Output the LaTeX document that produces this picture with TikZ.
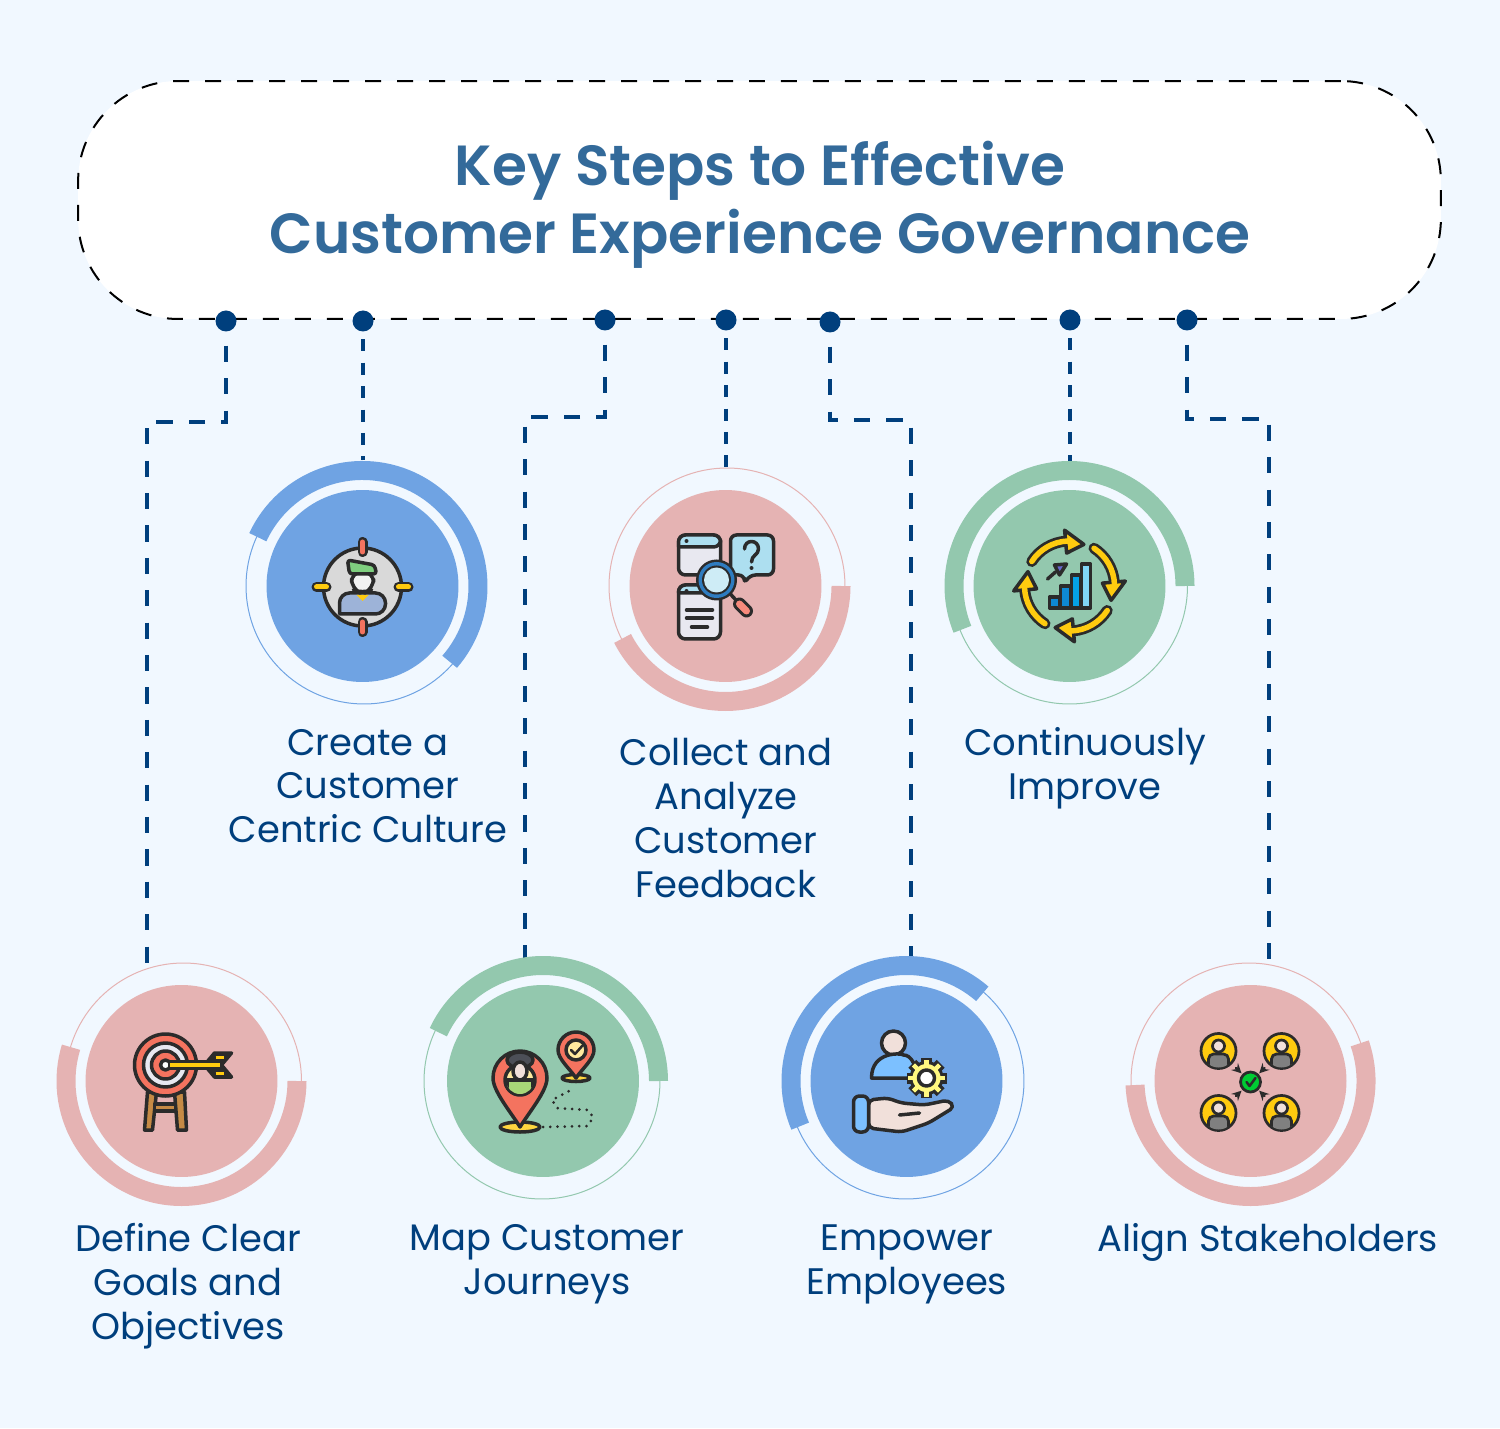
\documentclass[tikz,border=0pt]{standalone}
\usepackage{fontspec}
\setmainfont{Poppins}
\newfontfamily\titlefont{Poppins SemiBold}
\usetikzlibrary{calc}
\definecolor{pagec}{HTML}{F1F8FF}
\definecolor{navyc}{HTML}{003F7D}
\definecolor{titlec}{HTML}{336A9A}
\definecolor{pinkc}{HTML}{E5B3B3}
\definecolor{bluec}{HTML}{6FA3E3}
\definecolor{greenc}{HTML}{93C8AE}
\definecolor{inkc}{HTML}{2B2B2B}
\definecolor{coralc}{HTML}{F4735F}
\definecolor{yellowc}{HTML}{FFCB0F}
\definecolor{woodc}{HTML}{C58A45}
\definecolor{skyc}{HTML}{ADDFF0}
\definecolor{paperc}{HTML}{E8E8F0}
\definecolor{skinc}{HTML}{F1E0DA}
\definecolor{leafc}{HTML}{7FCF7F}
\definecolor{shirtc}{HTML}{9DB3D8}
\definecolor{lensc}{HTML}{2E7CC0}
\definecolor{sproutc}{HTML}{A8D878}
\definecolor{hairc}{HTML}{4C4F57}
\definecolor{palmc}{HTML}{7CC0FF}
\tikzset{
  headbox/.style  = {draw=black, fill=white, line width=.04cm, dash pattern=on .32cm off .32cm, rounded corners=2cm, minimum width=27.26cm, minimum height=4.76cm},
  headtext/.style = {align=center, text=titlec, inner sep=0, font=\fontsize{32.2}{38.5}\selectfont\titlefont},
  dotnode/.style  = {circle, fill=navyc, minimum size=.42cm, inner sep=0},
  linkbent/.style = {navyc, line width=.08cm, dash pattern=on .324cm off .324cm, dash phase=.37cm},
  linkflat/.style = {navyc, line width=.08cm, dash pattern=on .24cm off .228cm, dash phase=.318cm},
  disc/.style     = {circle, minimum size=3.84cm, inner sep=0},
  ring/.style     = {circle, minimum size=4.72cm, inner sep=0, line width=.02cm},
  band/.style     = {line width=.38cm},
  steptext/.style = {text=navyc, align=center, inner sep=0, font=\fontsize{21}{24.95}\selectfont},
  ico/.style      = {draw=inkc, line width=.07cm, line join=round, line cap=round},
  pillout/.style  = {inkc, line width=.2cm, line cap=round},
}

\begin{document}
\begin{tikzpicture}[x=.02cm, y=.02cm]
  \fill[pagec] (0,0) rectangle (1500,1428);

  \node[headbox] (head) at (759.5,1228) {};
  \node[headtext] (title) at (760,1223) {Key Steps to Effective\\Customer Experience Governance};

  \node[dotnode] (dot1) at (226,1107) {};
  \node[dotnode] (dot2) at (363,1107) {};
  \node[dotnode] (dot3) at (605,1108) {};
  \node[dotnode] (dot4) at (726,1108) {};
  \node[dotnode] (dot5) at (830,1106) {};
  \node[dotnode] (dot6) at (1070,1108) {};
  \node[dotnode] (dot7) at (1187,1108) {};

  \coordinate (bend1) at (146.5,1006);
  \coordinate (bend3) at (525,1011);
  \coordinate (bend5) at (911,1008);
  \coordinate (bend7) at (1269,1009);
  \coordinate (end1) at (146.5,456);
  \coordinate (end2) at (363,968);
  \coordinate (end3) at (525,470);
  \coordinate (end4) at (726,960);
  \coordinate (end5) at (911,470);
  \coordinate (end6) at (1070,966);
  \coordinate (end7) at (1269,463);

  \draw[linkbent] (dot1) |- (bend1) -- (end1);
  \draw[linkflat] (dot2) -- (end2);
  \draw[linkbent] (dot3) |- (bend3) -- (end3);
  \draw[linkflat] (dot4) -- (end4);
  \draw[linkbent] (dot5) |- (bend5) -- (end5);
  \draw[linkflat] (dot6) -- (end6);
  \draw[linkbent] (dot7) |- (bend7) -- (end7);

  \node[disc, fill=pinkc] (disc1) at (181.5,347) {};
  \node[ring, draw=pinkc] (ring1) at (183.5,347) {};
  \draw[band, pinkc] ([shift={(0:115.5)}]disc1.center) arc[start angle=0, end angle=-197, radius=115.5];

  \node[disc, fill=bluec] (disc2) at (362.5,842) {};
  \node[ring, draw=bluec] (ring2) at (364,842) {};
  \draw[band, bluec] ([shift={(155:115.5)}]disc2.center) arc[start angle=155, end angle=-41, radius=115.5];

  \node[disc, fill=greenc] (disc3) at (543,347) {};
  \node[ring, draw=greenc] (ring3) at (542,347) {};
  \draw[band, greenc] ([shift={(0:115.5)}]disc3.center) arc[start angle=0, end angle=155, radius=115.5];

  \node[disc, fill=pinkc] (disc4) at (725.5,842) {};
  \node[ring, draw=pinkc] (ring4) at (727,842) {};
  \draw[band, pinkc] ([shift={(0:115.5)}]disc4.center) arc[start angle=0, end angle=-153, radius=115.5];

  \node[disc, fill=bluec] (disc5) at (906.5,347) {};
  \node[ring, draw=bluec] (ring5) at (906,347) {};
  \draw[band, bluec] ([shift={(49:115.5)}]disc5.center) arc[start angle=49, end angle=203, radius=115.5];

  \node[disc, fill=greenc] (disc6) at (1069.5,842) {};
  \node[ring, draw=greenc] (ring6) at (1069.5,842) {};
  \draw[band, greenc] ([shift={(0:115.5)}]disc6.center) arc[start angle=0, end angle=202, radius=115.5];

  \node[disc, fill=pinkc] (disc7) at (1250.5,347) {};
  \node[ring, draw=pinkc] (ring7) at (1249,347) {};
  \draw[band, pinkc] ([shift={(19:115.5)}]disc7.center) arc[start angle=19, end angle=-178, radius=115.5];

  % target on its stand
  \begin{scope}[shift={(disc1.center)}]
    \draw[ico, fill=woodc] (-34,-11) -- (-25,-11) -- (-29,-49) -- (-37,-49) -- cycle;
    \draw[ico, fill=woodc] (-7,-11) -- (3,-11) -- (5,-49) -- (-4,-49) -- cycle;
    \draw[ico, fill=woodc] (-27,-30) rectangle (-6,-23);
    \draw[ico, fill=coralc] (-16,16) circle[radius=31];
    \draw[ico, fill=paperc] (-16,16) circle[radius=22];
    \draw[ico, fill=coralc] (-16,16) circle[radius=14];
    \draw[ico, fill=white] (-16,16) circle[radius=5];
    \draw[inkc, fill=inkc, line width=.07cm, line join=round] (23,16) -- (33,28) -- (50,28) -- (40,16) -- (50,4) -- (33,4) -- cycle;
    \draw[inkc, line width=.2cm] (-14,16) -- (38,16);
    \draw[yellowc, line width=.07cm] (-12,16) -- (38,16);
    \draw[yellowc, line width=.06cm] (34,24) -- (42,24) (34,8) -- (42,8);
  \end{scope}

  % person in a crosshair
  \begin{scope}[shift={(disc2.center)}]
    \draw[ico, fill=black!15] (0,-1) circle[radius=39];
    \draw[pillout] (0,44) -- (0,34) (0,-36) -- (0,-46) (-46,-1) -- (-36,-1) (36,-1) -- (46,-1);
    \draw[coralc, line width=.1cm, line cap=round] (0,44) -- (0,34) (0,-36) -- (0,-46);
    \draw[yellowc, line width=.1cm, line cap=round] (-46,-1) -- (-36,-1) (36,-1) -- (46,-1);
    \draw[ico, fill=shirtc, rounded corners=.2cm] (-23,-28) [sharp corners] -- (-23,-28) [rounded corners=.2cm] -- (-23,-7) -- (23,-7) -- (23,-28) [sharp corners] -- cycle;
    \fill[yellowc] (-6,-9) -- (6,-9) -- (0,-15) -- cycle;
    \draw[ico, fill=white!95!black, rounded corners=.2cm] (-11,14) -- (11,14) -- (11,-3) -- (0,-8) -- (-11,-3) -- cycle;
    \draw[ico, fill=leafc, rounded corners=.06cm] (-15,26) -- (12,21) -- (14,12) -- (-13,12) -- cycle;
  \end{scope}

  % windows, speech bubble and magnifier
  \begin{scope}[shift={(disc4.center)}]
    \draw[ico, fill=paperc, rounded corners=.14cm] (-47,11) rectangle (-5,51);
    \draw[ico, fill=skyc, rounded corners=.14cm] (-47,39) -- (-47,51) -- (-5,51) -- (-5,39) [sharp corners] -- cycle;
    \fill[inkc] (-39,45) circle[radius=2];
    \draw[ico, fill=skyc, rounded corners=.12cm] (5,51) -- (48,51) -- (48,11) -- (24,11) -- (19,2) -- (19,11) -- (5,11) -- cycle;
    \draw[ico] (19,37) .. controls (19,47) and (33,47) .. (33,37) .. controls (33,31) and (26,31) .. (26,24);
    \fill[inkc] (26,18) circle[radius=2];
    \draw[ico, fill=paperc, rounded corners=.14cm] (-47,-53) rectangle (-5,1);
    \draw[ico, fill=skyc, rounded corners=.14cm] (-47,-7) -- (-47,1) -- (-5,1) -- (-5,-7) [sharp corners] -- cycle;
    \fill[inkc] (-39,-5) circle[radius=2];
    \draw[ico] (-39,-24) -- (-13,-24) (-39,-32) -- (-13,-32) (-34,-41) -- (-18,-41);
    \draw[ico] (4,-7) -- (14,-18);
    \draw[inkc, line width=.26cm, line cap=round] (14,-18) -- (21,-25);
    \draw[coralc!70!pink, line width=.14cm, line cap=round] (14,-18) -- (21,-25);
    \fill[inkc] (-9,6) circle[radius=20.5];
    \fill[lensc] (-9,6) circle[radius=18];
    \fill[inkc] (-9,6) circle[radius=14.5];
    \fill[skyc!60!white] (-9,6) circle[radius=12.5];
  \end{scope}

  % bars inside four turning arrows
  \begin{scope}[shift={(disc6.center)}]
    \draw[ico, fill=cyan!70!blue] (-20,-22) rectangle (-10,-11);
    \draw[ico, fill=cyan!70!blue] (-9,-22) rectangle (1,0);
    \draw[ico, fill=cyan!90!blue] (2,-22) rectangle (11,11);
    \draw[ico, fill=cyan!50] (12,-22) rectangle (21,22);
    \draw[ico] (-22,7) -- (-14,14);
    \draw[ico, fill=blue!50!gray!80!white] (-15,21) -- (-3,22) -- (-10,11) -- cycle;
    \foreach \a in {147,57,-33,-123} {
      \draw[inkc, line width=.22cm, line cap=round] (\a:45) arc[start angle=\a, delta angle=-52, radius=45];
      \draw[ico, fill=yellowc] (\a-52:56) -- (\a-52:33) -- (\a-76:44) -- cycle;
      \draw[yellowc, line width=.11cm, line cap=round] (\a:45) arc[start angle=\a, delta angle=-55, radius=45];
    }
  \end{scope}

  % map pins and a dotted route
  \begin{scope}[shift={(disc3.center)}]
    \draw[ico, fill=yellowc!80!white] (-23,-46) ellipse[x radius=20, y radius=5];
    \draw[ico, fill=coralc] (-23,-46) .. controls (-33,-30) and (-50,-10) .. (-50,3) arc[start angle=180, end angle=0, radius=27] .. controls (4,-10) and (-13,-30) .. (-23,-46) -- cycle;
    \draw[ico, fill=yellowc!40!white] (-23,1) circle[radius=15];
    \begin{scope}
      \clip (-23,1) circle[radius=14];
      \draw[ico, fill=sproutc] (-36,-20) rectangle (-10,1);
    \end{scope}
    \draw[ico, fill=hairc] (-23,21) ellipse[x radius=13, y radius=8];
    \draw[ico, fill=skinc] (-23,10) ellipse[x radius=7, y radius=9];
    \draw[ico, fill=yellowc!80!white] (33,3) ellipse[x radius=14, y radius=3.5];
    \draw[ico, fill=coralc] (33,3) .. controls (27,12) and (15,22) .. (15,31) arc[start angle=180, end angle=0, radius=18] .. controls (51,22) and (39,12) .. (33,3) -- cycle;
    \draw[ico, fill=yellowc!40!white] (33,31) circle[radius=10];
    \draw[ico, line width=.05cm] (28,31) -- (32,27) -- (40,36);
    \draw[inkc, line width=.06cm, line cap=round, dash pattern=on 0cm off .145cm] (0,-46) -- (45,-45) -- (50,-36) -- (45,-29) -- (14,-27) -- (9,-19) -- (32,-7);
  \end{scope}

  % open hand with person and gear
  \begin{scope}[shift={(disc5.center)}]
    \draw[ico, fill=skinc] (-13,38) circle[radius=12];
    \draw[ico, fill=palmc] (-35,3) .. controls (-35,30) and (-5,28) .. (-3,26) .. controls (5,26) and (10,15) .. (10,3) -- cycle;
    \foreach \a in {0,45,...,315} {
      \draw[inkc, line width=.22cm] ($(20,3)+(\a:14)$) -- ($(20,3)+(\a:20)$);
    }
    \fill[inkc] (20,3) circle[radius=17];
    \foreach \a in {0,45,...,315} {
      \draw[yellow!50!white, line width=.09cm] ($(20,3)+(\a:10)$) -- ($(20,3)+(\a:18.5)$);
    }
    \fill[yellow!50!white] (20,3) circle[radius=14];
    \draw[ico, fill=white] (20,3) circle[radius=8];
    \draw[ico, fill=skinc, rounded corners=.1cm] (-38,-19) -- (-19,-17) -- (-5,-22) -- (18,-24) -- (42,-19) -- (48,-26) -- (22,-42) -- (-5,-51) -- (-38,-47) -- cycle;
    \draw[ico] (-7,-34) -- (13,-32);
    \draw[ico, fill=palmc, rounded corners=.12cm] (-53,-15) rectangle (-38,-51);
  \end{scope}

  % four people around a check mark
  \begin{scope}[shift={(disc7.center)}]
    \foreach \x/\y in {-32/30, 31/30, -32/-32, 31/-32} {
      \draw[ico, line width=.055cm, fill=yellowc] (\x,\y) circle[radius=17.5];
      \begin{scope}
        \clip (\x,\y) circle[radius=16.5];
        \draw[ico, line width=.055cm, fill=gray, rounded corners=.1cm] (\x-10,\y-22) rectangle (\x+10,\y-3);
      \end{scope}
      \draw[ico, line width=.055cm, fill=skinc] (\x,\y+5) circle[radius=6];
      \draw[ico, -stealth, line width=.05cm] ($(\x,\y)!.55!(0,-1)$) -- ($(\x,\y)!.72!(0,-1)$);
    }
    \draw[ico, line width=.055cm, fill=green!60!teal] (0,-1) circle[radius=10];
    \draw[ico, line width=.05cm] (-4,-1) -- (-1,-5) -- (5,3);
  \end{scope}

  \node[steptext] (text1) at (188,142) {Define Clear\\Goals and\\Objectives};
  \node[steptext] (text2) at (368,642) {Create a\\Customer\\Centric Culture};
  \node[steptext] (text3) at (547,164) {Map Customer\\Journeys};
  \node[steptext] (text4) at (726,610) {Collect and\\Analyze\\Customer\\Feedback};
  \node[steptext] (text5) at (907,164) {Empower\\Employees};
  \node[steptext] (text6) at (1085,660) {Continuously\\Improve};
  \node[steptext] (text7) at (1268,186) {Align Stakeholders};
\end{tikzpicture}
\end{document}
